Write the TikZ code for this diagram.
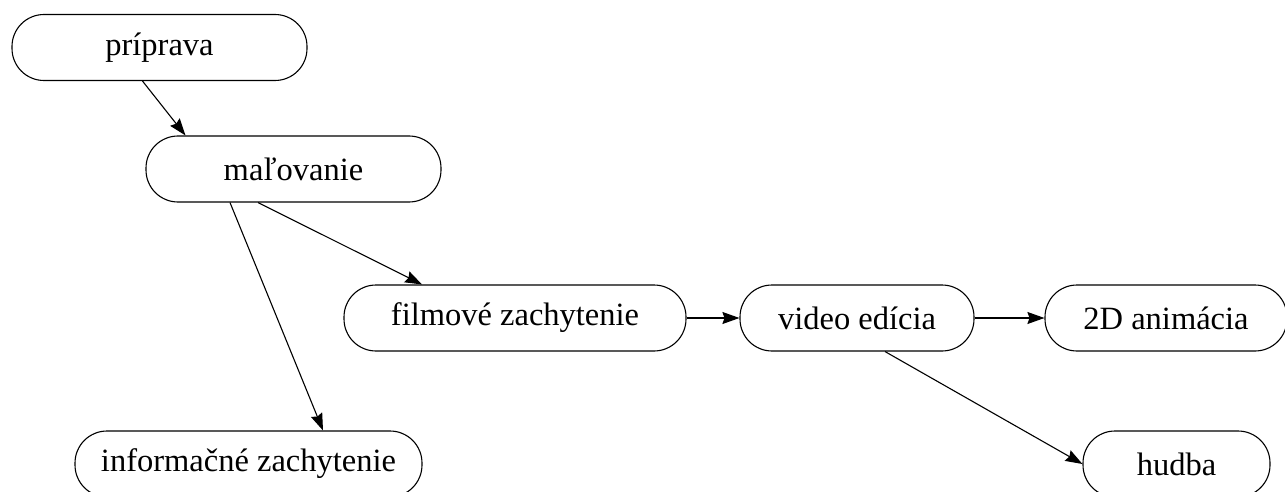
\documentclass[tikz,border=0pt]{standalone}
\usepackage{fontspec}
\setmainfont{Liberation Serif}
\usetikzlibrary{arrows.meta}
\begin{document}
\begin{tikzpicture}[x=1pt,y=1pt,
  box/.style={draw,line width=1.1pt,rounded corners=32pt,inner sep=0pt,minimum height=66pt,font=\fontsize{32.5}{36}\selectfont},
  conn/.style={line width=1.1pt,-{Stealth[length=17pt,width=12pt,inset=2pt]}}]
\useasboundingbox (0,0) rectangle (1285,-492);
\node[box,minimum width=295pt] (pri) at (159.5,-47.5) {príprava};
\node[box,minimum width=295pt] (mal) at (293.5,-169) {maľovanie};
\node[box,minimum width=342pt] (film) at (515,-318) {filmové zachytenie};
\node[box,minimum width=234pt] (video) at (857,-318) {video edícia};
\node[box,minimum width=242pt] (anim) at (1166,-318) {2D animácia};
\node[box,minimum width=347pt] (info) at (248.5,-464) {informačné zachytenie};
\node[box,minimum width=187pt] (hudba) at (1176.5,-464) {hudba};
\draw[conn] ([xshift=-17pt]pri.south) -- ([xshift=-108pt]mal.north);
\draw[conn] ([xshift=-63.5pt]mal.south) -- ([xshift=74.5pt]info.north);
\draw[conn] ([xshift=-35.5pt]mal.south) -- ([xshift=-93pt]film.north);
\draw[conn] (film.east) -- (video.west);
\draw[conn] (video.east) -- (anim.west);
\draw[conn] ([xshift=28pt]video.south) -- (hudba.west);
\end{tikzpicture}
\end{document}
